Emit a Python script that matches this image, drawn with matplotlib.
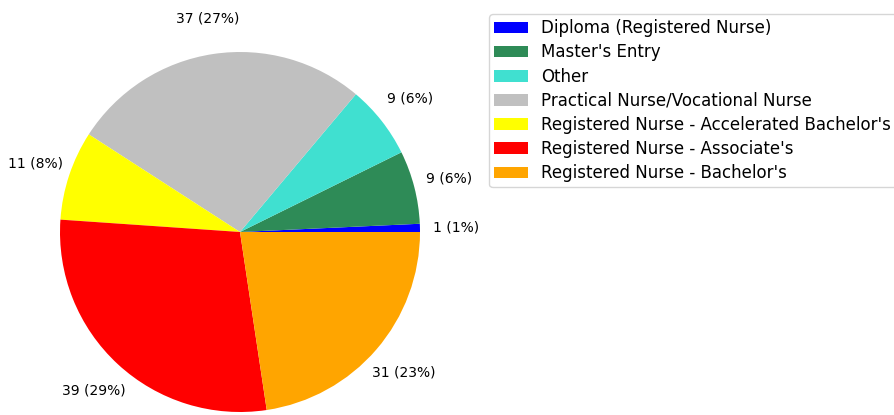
import matplotlib
matplotlib.use("Agg")
import matplotlib.pyplot as plt

categories = ["Diploma (Registered Nurse)", "Master's Entry", "Other",
              "Practical Nurse/Vocational Nurse",
              "Registered Nurse - Accelerated Bachelor's",
              "Registered Nurse - Associate's",
              "Registered Nurse - Bachelor's"]
counts = [1, 9, 9, 37, 11, 39, 31]
percents = [1, 6, 6, 27, 8, 29, 23]
colors = ["blue", "seagreen", "turquoise", "silver", "yellow", "red", "orange"]

fig = plt.figure(figsize=(8.94, 4.15), dpi=100)
ax = fig.add_axes([60 / 894, 3 / 415, 360 / 894, 360 / 415])

wedges, texts, autotexts = ax.pie(counts, colors=colors, startangle=0,
                                  autopct=lambda p: "", pctdistance=1.2)
for t, c, p in zip(autotexts, counts, percents):
    t.set_text(f"{c} ({p}%)")
    t.set_fontsize(10)
ax.set_xlim(-1, 1)
ax.set_ylim(-1, 1)

# legend sits to the right, runs off the edge like the original
fig.legend(wedges, categories, loc="upper left",
           bbox_to_anchor=(481 / 894, 1 - 6 / 415), fontsize=12,
           labelspacing=0.37, borderpad=0.3)

fig.savefig("out.png", dpi=100)
